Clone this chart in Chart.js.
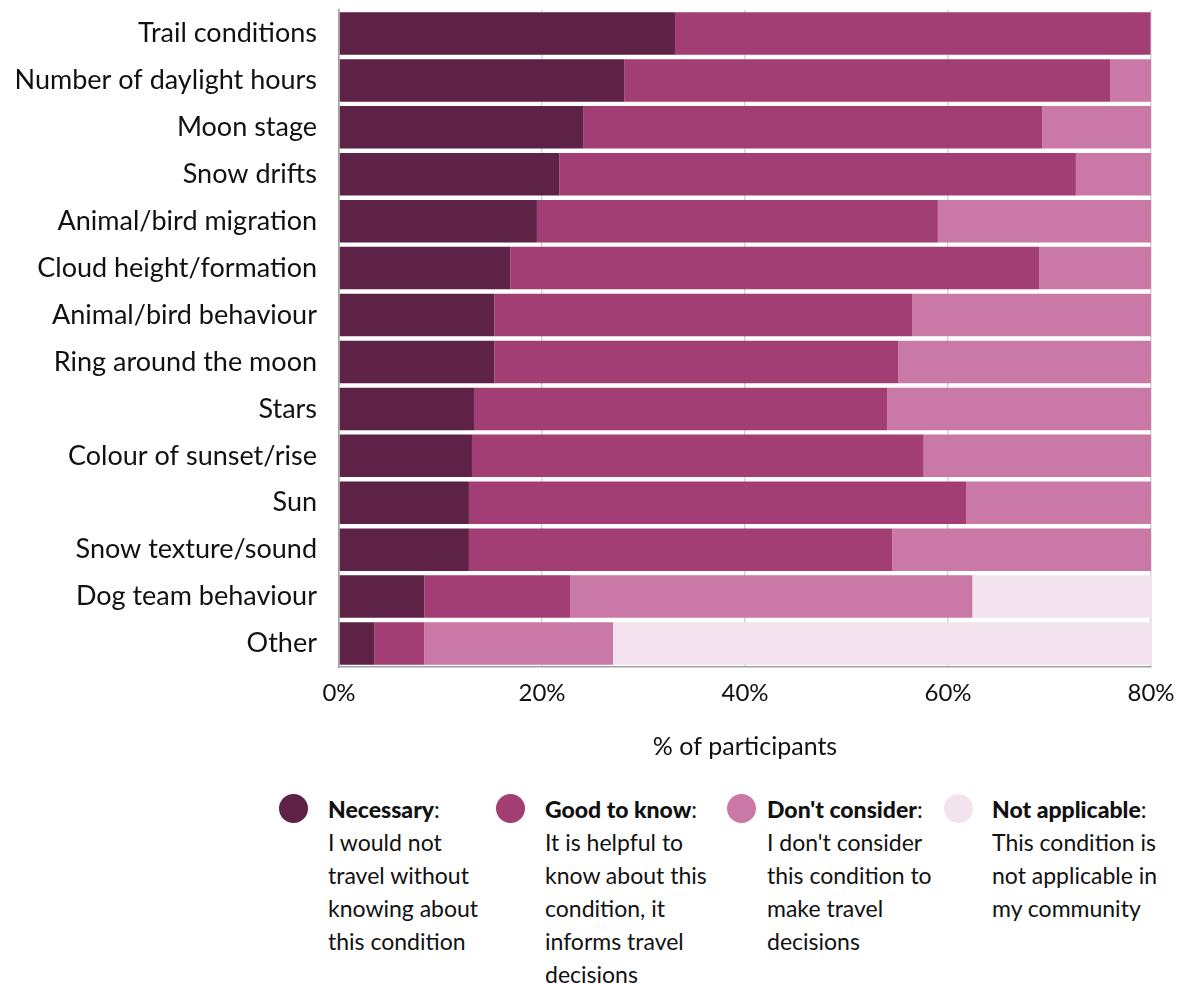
<!DOCTYPE html>
<html>
<head>
<meta charset="utf-8">
<script src="https://cdn.jsdelivr.net/npm/chart.js@4"></script>
<style>
  body { margin: 0; background: #fff; font-family: Lato, sans-serif; color: #111; }
  #wrap { position: relative; width: 1189px; height: 985px; }
  #chart { position: absolute; left: 0; top: 0; }
  .dot { position: absolute; width: 29px; height: 29px; border-radius: 50%; }
  .item { position: absolute; top: 793px; font-size: 23px; line-height: 33px; white-space: nowrap; }
  .item b { font-weight: 900; }
</style>
</head>
<body>
<div id="wrap">
  <canvas id="chart" width="1189" height="770"></canvas>
  <div id="legend"></div>
</div>
<script>
const categories = [
  'Trail conditions', 'Number of daylight hours', 'Moon stage', 'Snow drifts',
  'Animal/bird migration', 'Cloud height/formation', 'Animal/bird behaviour',
  'Ring around the moon', 'Stars', 'Colour of sunset/rise', 'Sun',
  'Snow texture/sound', 'Dog team behaviour', 'Other'
];
const necessary     = [33.1, 28.1, 24.1, 21.7, 19.5, 16.9, 15.3, 15.3, 13.3, 13.1, 12.8, 12.8, 8.4, 3.5];
const goodToKnow    = [46.8, 47.9, 45.2, 50.9, 39.5, 52.1, 41.2, 39.8, 40.7, 44.5, 49.0, 41.7, 14.4, 4.9];
const dontConsider  = [20.1, 24.0, 30.7, 27.4, 41.0, 31.0, 43.5, 44.9, 46.0, 42.4, 38.2, 45.5, 39.6, 18.6];
const notApplicable = [0, 0, 0, 0, 0, 0, 0, 0, 0, 0, 0, 0, 37.6, 73.0];
const xTicks = [0, 20, 40, 60, 80];

const seriesNames = ['Necessary', 'Good to know', "Don't consider", 'Not applicable'];
const seriesColors = ['#5d2245', '#a33e74', '#ca79a6', '#f3e3ee'];
const seriesText = [
  ['I would not', 'travel without', 'knowing about', 'this condition'],
  ['It is helpful to', 'know about this', 'condition, it', 'informs travel', 'decisions'],
  ["I don't consider", 'this condition to', 'make travel', 'decisions'],
  ['This condition is', 'not applicable in', 'my community']
];

// keep the plot area where the original has it
const noPad = scale => {
  scale.paddingTop = 0;
  scale.paddingBottom = 0;
  scale.paddingLeft = 0;
  scale.paddingRight = 0;
};

const ctx = document.getElementById('chart').getContext('2d');
const chart = new Chart(ctx, {
  type: 'bar',
  data: {
    labels: categories,
    datasets: [necessary, goodToKnow, dontConsider, notApplicable].map((d, i) => ({
      label: seriesNames[i],
      data: d,
      backgroundColor: seriesColors[i],
      borderWidth: 0,
      barPercentage: 1,
      categoryPercentage: 0.905
    }))
  },
  options: {
    indexAxis: 'y',
    responsive: false,
    animation: false,
    layout: { padding: { top: 10, right: 38, left: 0, bottom: 0 } },
    plugins: { legend: { display: false }, tooltip: { enabled: false } },
    scales: {
      x: {
        stacked: true,
        min: 0,
        max: 80,
        afterBuildTicks: scale => { scale.ticks = xTicks.map(v => ({ value: v })); },
        afterFit: scale => { scale.height = 103; noPad(scale); },
        grid: { color: '#d4d4d4', lineWidth: 1.5, drawTicks: false },
        border: { color: '#a0a0a0', width: 1.5 },
        ticks: {
          padding: 12,
          color: '#111',
          font: { family: 'Lato', size: 24 },
          callback: v => v + '%'
        },
        title: {
          display: true,
          text: '% of participants',
          color: '#111',
          font: { family: 'Lato', size: 25 },
          padding: { top: 0, bottom: 8 }
        }
      },
      y: {
        stacked: true,
        afterFit: scale => { scale.width = 339; noPad(scale); },
        grid: { display: false, drawTicks: false },
        border: { color: '#a0a0a0', width: 1.5 },
        ticks: {
          padding: 22,
          color: '#111',
          font: { family: 'Lato', size: 27 }
        }
      }
    }
  }
});

const dotX = [293, 510, 741, 958];
const textX = [328, 545, 767, 992];
const legend = document.getElementById('legend');
seriesNames.forEach((name, i) => {
  const dot = document.createElement('div');
  dot.className = 'dot';
  dot.style.left = (dotX[i] - 14.5) + 'px';
  dot.style.top = (808 - 14.5) + 'px';
  dot.style.background = seriesColors[i];
  legend.appendChild(dot);
  const item = document.createElement('div');
  item.className = 'item';
  item.style.left = textX[i] + 'px';
  item.innerHTML = '<b>' + name + '</b>:<br>' + seriesText[i].join('<br>');
  legend.appendChild(item);
});
</script>
</body>
</html>
